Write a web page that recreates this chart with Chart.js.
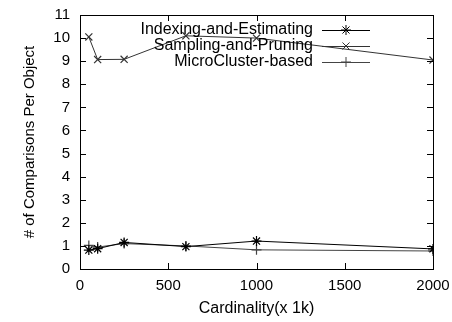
<!DOCTYPE html>
<html>
<head>
<meta charset="utf-8">
<script src="https://cdn.jsdelivr.net/npm/chart.js@4/dist/chart.umd.min.js"></script>
<style>
  html, body { margin: 0; padding: 0; background: #fff; }
  #wrap { width: 452px; height: 322px; }
</style>
</head>
<body>
<div id="wrap"><canvas id="c" width="452" height="322"></canvas></div>
<script>
// cardinality (x 1k)
const cardinality = [50, 100, 250, 600, 1000, 2000];

const indexingEstimating = [0.82, 0.88, 1.15, 0.97, 1.21, 0.87];
const samplingPruning    = [10.05, 9.07, 9.08, 10.1, 10.0, 9.05];
const microCluster       = [1.02, 0.95, 1.1, 1.0, 0.83, 0.78];

const xTicks = [0, 500, 1000, 1500, 2000];
const yTicks = [0, 1, 2, 3, 4, 5, 6, 7, 8, 9, 10, 11];

const FONT = "'Liberation Sans', Arial, sans-serif";

function pts(ys){ return cardinality.map((x, i) => ({ x, y: ys[i] })); }

function ds(label, ys, style, color){
  return {
    label, data: pts(ys),
    borderColor: color, backgroundColor: color,
    borderWidth: 1, pointStyle: style, pointRadius: 5,
    pointBorderWidth: 1.2, tension: 0, fill: false
  };
}

// gnuplot style inward ticks + key drawn right-aligned like the original
const gnuplotBits = {
  id: "gnuplotBits",
  afterDraw(chart){
    const ctx = chart.ctx;
    const a = chart.chartArea;
    const xs = chart.scales.x, ys = chart.scales.y;
    ctx.save();
    ctx.strokeStyle = "#000";
    ctx.lineWidth = 1;
    ctx.beginPath();
    xTicks.forEach(v => {
      const px = Math.round(xs.getPixelForValue(v)) + 0.5;
      ctx.moveTo(px, a.bottom); ctx.lineTo(px, a.bottom - 6);
      ctx.moveTo(px, a.top); ctx.lineTo(px, a.top + 6);
    });
    yTicks.forEach(v => {
      const py = Math.round(ys.getPixelForValue(v)) + 0.5;
      ctx.moveTo(a.left, py); ctx.lineTo(a.left + 6, py);
      ctx.moveTo(a.right, py); ctx.lineTo(a.right - 6, py);
    });
    ctx.stroke();

    // key
    ctx.font = "16px " + FONT;
    ctx.textAlign = "right";
    ctx.textBaseline = "middle";
    const textRight = 313, lx0 = 322, lx1 = 370, rowY = [30, 46, 62];
    chart.data.datasets.forEach((d, i) => {
      const y = rowY[i];
      ctx.fillStyle = "#000";
      ctx.fillText(d.label, textRight, y);
      ctx.strokeStyle = d.borderColor;
      ctx.beginPath();
      ctx.moveTo(lx0, y + 0.5); ctx.lineTo(lx1, y + 0.5);
      ctx.stroke();
      Chart.helpers.drawPoint(ctx, {
        pointStyle: d.pointStyle, radius: 5, rotation: 0, borderWidth: 1.2
      }, (lx0 + lx1) / 2, y);
    });
    ctx.restore();
  }
};

new Chart(document.getElementById("c"), {
  type: "line",
  data: {
    datasets: [
      ds("Indexing-and-Estimating", indexingEstimating, "star", "#000"),
      ds("Sampling-and-Pruning", samplingPruning, "crossRot", "#333"),
      ds("MicroCluster-based", microCluster, "cross", "#444")
    ]
  },
  options: {
    responsive: false,
    animation: false,
    devicePixelRatio: 1,
    layout: { padding: { top: 15, right: 19, left: 0, bottom: 0 } },
    plugins: { legend: { display: false }, tooltip: { enabled: false } },
    scales: {
      x: {
        type: "linear", min: 0, max: 2000,
        afterFit(s){ s.height = 53; s.paddingRight = 0; s.paddingLeft = 0; },
        afterBuildTicks(s){ s.ticks = xTicks.map(v => ({ value: v })); },
        grid: { display: false, drawTicks: false },
        border: { display: true, color: "#000", width: 1 },
        ticks: { color: "#000", font: { family: FONT, size: 15 }, padding: 8, maxRotation: 0,
                 callback: v => String(v) },
        title: { display: true, text: "Cardinality(x 1k)", color: "#000",
                 font: { family: FONT, size: 16 }, padding: { top: 3 } }
      },
      y: {
        type: "linear", min: 0, max: 11,
        afterFit(s){ s.width = 80; s.paddingTop = 0; s.paddingBottom = 0; },
        afterBuildTicks(s){ s.ticks = yTicks.map(v => ({ value: v })); },
        grid: { display: false, drawTicks: false },
        border: { display: true, color: "#000", width: 1 },
        ticks: { color: "#000", font: { family: FONT, size: 15 }, padding: 10,
                 callback: v => String(v) },
        title: { display: true, text: "# of Comparisons Per Object", color: "#000",
                 font: { family: FONT, size: 15 }, padding: { top: 21, bottom: 0 } }
      }
    }
  },
  plugins: [
    gnuplotBits,
    { id: "box", afterDraw(chart){
        const a = chart.chartArea, ctx = chart.ctx;
        ctx.save(); ctx.strokeStyle = "#000"; ctx.lineWidth = 1;
        ctx.strokeRect(Math.round(a.left) + 0.5, Math.round(a.top) + 0.5,
                       Math.round(a.right - a.left), Math.round(a.bottom - a.top));
        ctx.restore();
    } }
  ]
});
</script>
</body>
</html>
